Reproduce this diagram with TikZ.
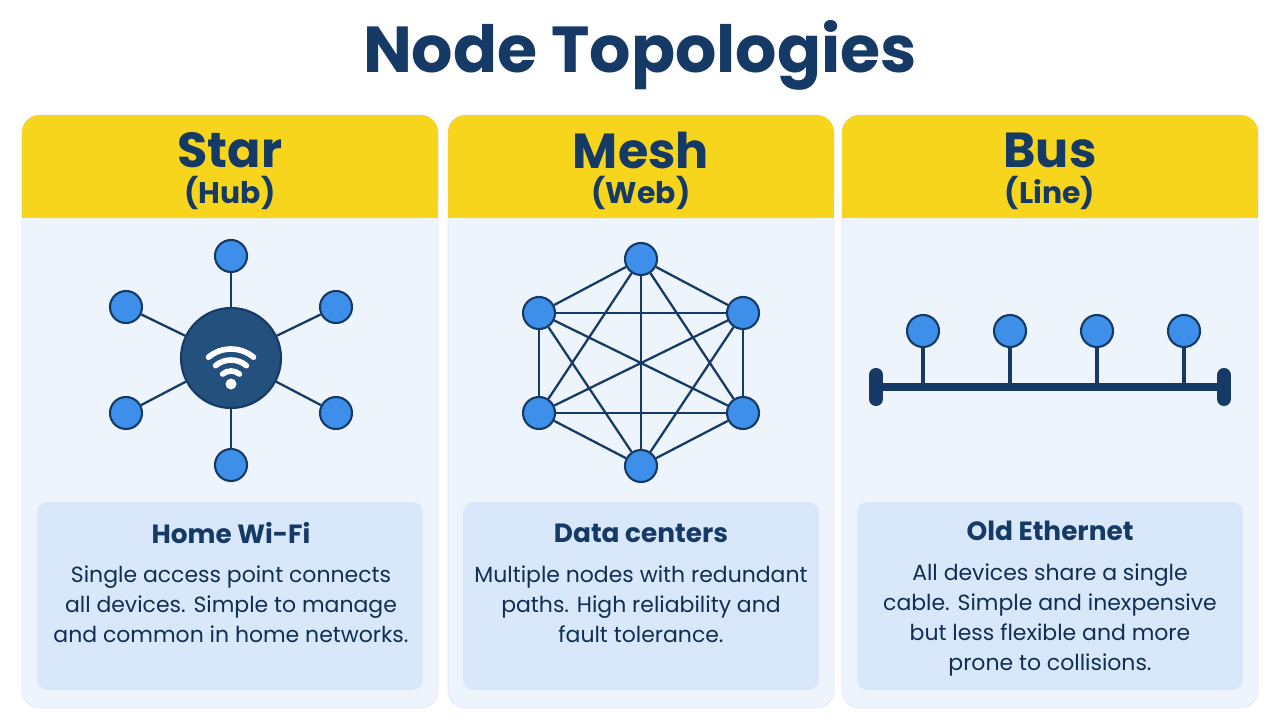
\documentclass[tikz,border=0pt]{standalone}
\usepackage{fontspec}
\setmainfont{Poppins}
\usetikzlibrary{positioning}
\definecolor{navy}{HTML}{163A66}
\definecolor{leafblue}{HTML}{3D8FEA}
\definecolor{gold}{HTML}{F7D51D}
\definecolor{panelbg}{HTML}{EEF4FC}
\definecolor{descbg}{HTML}{D8E7FA}
\definecolor{hubfill}{HTML}{24507E}
\tikzset{
  leaf/.style={circle,draw=navy,line width=1.2pt,fill=leafblue,minimum size=32*0.02cm,inner sep=0pt},
  link/.style={draw=navy,line width=1.3pt},
  head/.style={font=\fontsize{28}{30}\selectfont\bfseries,text=navy},
  sub/.style={font=\fontsize{17}{20}\selectfont\bfseries,text=navy},
  desctitle/.style={font=\fontsize{15}{18}\selectfont\bfseries,text=navy},
  desc/.style={font=\fontsize{12.5}{17}\selectfont,text=navy!80!black,align=center}
}
\begin{document}
\begin{tikzpicture}[x=0.02cm,y=-0.02cm]
\useasboundingbox[fill=white] (0,0) rectangle (1280,720);
\node[font=\fontsize{37}{40}\selectfont\bfseries,text=navy] (title) at (640,55) {Node Topologies};
% panels
\foreach \x/\w/\nm/\hd/\sb in {22/416/star/Star/(Hub),448/386/mesh/Mesh/(Web),842/416/bus/Bus/(Line)}{
  \fill[panelbg,draw=blue!10,rounded corners=10] (\x,115) rectangle ++(\w,593);
  \fill[gold,rounded corners=10] (\x,115) rectangle ++(\w,103);
  \fill[gold] (\x,170) rectangle ++(\w,48);
  \fill[descbg,rounded corners=6] (\x+15,502) rectangle ++(\w-30,188);
  \node[head] (\nm-head) at (\x+\w/2,150) {\hd};
  \node[sub] (\nm-sub) at (\x+\w/2,193) {\sb};
}
% star
\node[circle,fill=hubfill,draw=navy,line width=1.2pt,minimum size=100*0.02cm] (hub) at (231,358) {};
\foreach \i/\p in {1/{231,256},2/{126,307},3/{336,307},4/{126,413},5/{336,413},6/{231,465}}{
  \node[leaf] (s\i) at (\p) {};
  \draw[link] (hub) -- (s\i);
}
\fill[white] (231,384) circle (5.5);
\foreach \r in {13,24,35}
  \draw[white,line width=3.2pt,line cap=round] (231,384) ++(-130:\r) arc[start angle=-130,end angle=-50,radius=\r];
% mesh
\foreach \i/\p in {1/{641,259},2/{539,313},3/{743,313},4/{539,413},5/{743,413},6/{641,466}}
  \node[leaf] (m\i) at (\p) {};
\foreach \a in {1,...,5}{
  \pgfmathtruncatemacro{\n}{\a+1}
  \foreach \b in {\n,...,6}
    \draw[link] (m\a) -- (m\b);
}
% bus
\coordinate (busL) at (876,387);
\coordinate (busR) at (1224,387);
\draw[navy,line width=4pt] (busL) -- (busR);
\draw[navy,line width=8pt,line cap=round] (876,375) -- (876,399);
\draw[navy,line width=8pt,line cap=round] (1224,375) -- (1224,399);
\foreach \i/\x in {1/923,2/1010,3/1097,4/1184}{
  \node[leaf] (b\i) at (\x,331) {};
  \coordinate (t\i) at (\x,387);
  \draw[navy,line width=2.2pt] (b\i) -- (t\i);
}
% descriptions
\node[desctitle] (star-dt) at (231,533) {Home Wi-Fi};
\node[desc,anchor=north] (star-dd) at (231,560) {Single access point connects\\all devices. Simple to manage\\and common in home networks.};
\node[desctitle] (mesh-dt) at (641,533) {Data centers};
\node[desc,anchor=north] (mesh-dd) at (641,560) {Multiple nodes with redundant\\paths. High reliability and\\fault tolerance.};
\node[desctitle] (bus-dt) at (1050,531) {Old Ethernet};
\node[desc,anchor=north] (bus-dd) at (1050,558) {All devices share a single\\cable. Simple and inexpensive\\but less flexible and more\\prone to collisions.};
\end{tikzpicture}
\end{document}
